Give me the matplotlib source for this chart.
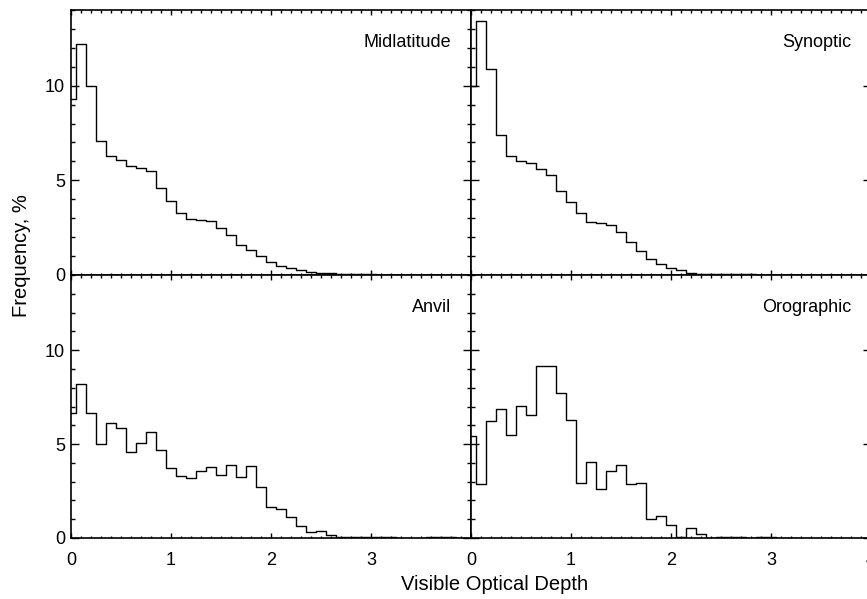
#!/usr/bin/env python3

import numpy as np
import matplotlib
matplotlib.use("Agg")
import matplotlib.pyplot as plt
import matplotlib.transforms as mtransforms
from matplotlib.ticker import MultipleLocator

plt.rcParams["font.family"] = ["Liberation Sans", "DejaVu Sans"]

# bin centres of the histograms (optical depth)
depth = np.round(np.arange(0, 4.05, 0.1), 1)

# frequency in % per bin
midlatitude = [9.3, 12.2, 10.0, 7.07, 6.31, 6.07, 5.75, 5.66, 5.5, 4.62,
               3.92, 3.28, 2.95, 2.89, 2.84, 2.49, 2.13, 1.6, 1.34, 0.99,
               0.69, 0.48, 0.37, 0.25, 0.16, 0.12, 0.08, 0.06, 0.05, 0.04,
               0.03, 0.02, 0.02, 0.01, 0.01, 0.01, 0.0, 0.0, 0.0, 0.0, 0.0]
synoptic = [10.0, 13.4, 10.9, 7.4, 6.3, 6.0, 5.9, 5.6, 5.3, 4.45,
            3.84, 3.25, 2.79, 2.75, 2.62, 2.27, 1.73, 1.29, 0.84, 0.57,
            0.36, 0.25, 0.13, 0.07, 0.06, 0.05, 0.04, 0.03, 0.03, 0.02,
            0.02, 0.02, 0.01, 0.01, 0.01, 0.01, 0.0, 0.0, 0.0, 0.0, 0.0]
anvil = [6.68, 8.19, 6.68, 5.0, 6.1, 5.85, 4.59, 5.05, 5.62, 4.7,
         3.7, 3.3, 3.19, 3.58, 3.76, 3.37, 3.87, 3.24, 3.85, 2.73,
         1.63, 1.54, 1.13, 0.66, 0.30, 0.37, 0.14, 0.05, 0.03, 0.04,
         0.05, 0.04, 0.03, 0.02, 0.02, 0.02, 0.03, 0.04, 0.03, 0.02, 0.02]
orographic = [5.45, 2.85, 6.25, 6.85, 5.5, 7.05, 6.53, 9.13, 9.13, 7.7,
              6.26, 2.95, 4.06, 2.62, 3.59, 3.88, 2.85, 2.95, 1.01, 1.17,
              0.71, 0.05, 0.53, 0.23, 0.0, 0.03, 0.04, 0.03, 0.02, 0.03,
              0.04, 0.02, 0.01, 0.02, 0.01, 0.0, 0.0, 0.01, 0.0, 0.0, 0.0]

panel_names = ["Midlatitude", "Synoptic", "Anvil", "Orographic"]
panel_data = [midlatitude, synoptic, anvil, orographic]

y_ticks = [0, 5, 10]
x_ticks_left = [0, 1, 2, 3]
x_ticks_right = [0, 1, 2, 3, 4]

W, H = 867, 599
fig = plt.figure(figsize=(W / 100, H / 100), dpi=100)

# panel rectangles in pixels (left, top, right, bottom); right column runs past the edge
boxes = [(71, 10, 471, 275), (471, 10, 871, 275),
         (71, 275, 471, 538), (471, 275, 871, 538)]

for i, (name, values) in enumerate(zip(panel_names, panel_data)):
    l, t, r, b = boxes[i]
    ax = fig.add_axes([l / W, 1 - b / H, (r - l) / W, (b - t) / H])
    ax.step(depth, values, where="mid", color="black", lw=1.0)

    ax.set_xlim(0, 4)
    ax.set_ylim(0, 14)
    ax.xaxis.set_minor_locator(MultipleLocator(0.1))
    ax.yaxis.set_minor_locator(MultipleLocator(1))
    ax.set_yticks(y_ticks)
    if i == 3:
        ax.set_xticks(x_ticks_right)
    else:
        ax.set_xticks(x_ticks_left)

    for s in ax.spines.values():
        s.set_linewidth(1.2)

    ax.tick_params(which="both", direction="in", top=True, right=True,
                   labelsize=13, width=1.0, colors="black")
    ax.tick_params(axis="y", which="major", length=5.8, pad=4.3)
    ax.tick_params(axis="y", which="minor", length=2.9)
    ax.tick_params(axis="x", which="major", length=3.6, pad=10)
    ax.tick_params(axis="x", which="minor", length=1.8)

    ax.tick_params(labelleft=(i % 2 == 0), labelbottom=(i >= 2))

    trans = mtransforms.blended_transform_factory(ax.transData, ax.transAxes)
    ax.text(3.8, 0.91, name, transform=trans, ha="right", va="top", fontsize=13)

fig.text(0.0248, 0.574, "Frequency, %", rotation=90, ha="center", va="center",
         fontsize=14.5)
fig.text(0.5703, 0.015, "Visible Optical Depth", ha="center", va="baseline",
         fontsize=14.5)

fig.savefig("out.png", dpi=100)
